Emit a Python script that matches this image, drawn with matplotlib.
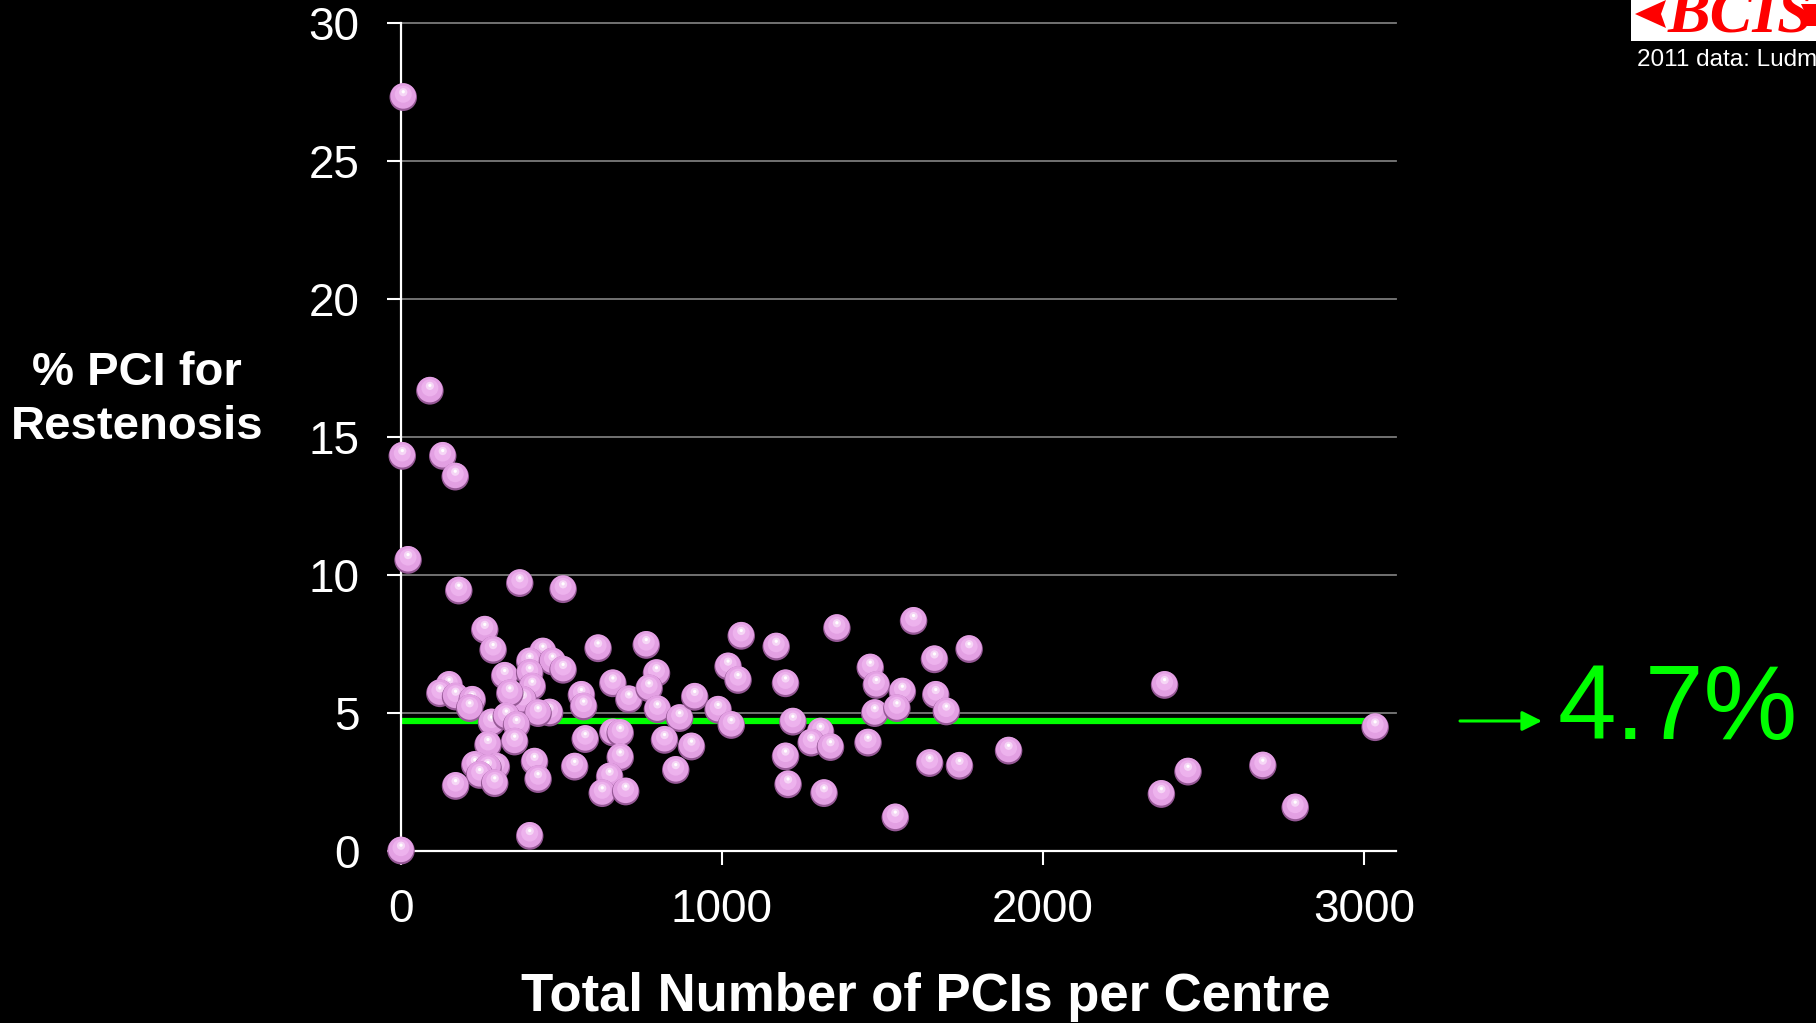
import matplotlib
matplotlib.use("Agg")
import matplotlib.pyplot as plt
import matplotlib.transforms as mtransforms
from matplotlib.patches import Rectangle, Polygon

plt.rcParams['font.family'] = ['Liberation Sans', 'DejaVu Sans']

# ---------------- data ----------------
pci_total = [7, 90, 4, 130, 169,
             22, 180, 370, 505, 261, 287, 442, 401, 472, 505, 323, 401, 409, 380, 339,
             150, 121, 170, 222, 214, 463, 427, 282, 328, 360, 271, 354, 230, 297, 271,
             245, 292, 170, 416, 427, 401, 0,
             614, 764, 1060, 660, 796, 562, 569, 710, 773, 799, 868, 915, 1019, 1050,
             988, 1029, 660, 683, 574, 683, 541, 821, 905, 856, 650, 627, 700,
             1169, 1358, 1597, 1770, 1198, 1462, 1481, 1562, 1662, 1666, 1699, 1476,
             1545, 1221, 1307, 1278, 1338, 1455, 1198, 1647, 1740, 1893, 1206, 1318, 1540,
             2379, 3035, 2452, 2369, 2685, 2786]
pct_restenosis = [27.3, 16.66, 14.3, 14.3, 13.55,
                  10.53, 9.42, 9.69, 9.47, 8.0, 7.27, 7.21, 6.85, 6.85, 6.55, 6.33, 6.43, 5.94, 5.46, 5.70,
                  6.0, 5.70, 5.58, 5.46, 5.16, 5.0, 4.98, 4.64, 4.86, 4.55, 3.83, 3.95, 3.1, 3.04, 3.0,
                  2.74, 2.44, 2.34, 3.22, 2.59, 0.53, 0.0,
                  7.33, 7.45, 7.78, 6.06, 6.43, 5.64, 5.22, 5.48, 5.88, 5.12, 4.8, 5.57, 6.67, 6.18,
                  5.1, 4.55, 4.28, 4.26, 4.04, 3.38, 3.04, 4.01, 3.77, 2.92, 2.68, 2.08, 2.14,
                  7.39, 8.06, 8.32, 7.3, 6.06, 6.63, 6.0, 5.76, 6.93, 5.64, 5.04, 4.98,
                  5.16, 4.67, 4.31, 3.91, 3.75, 3.91, 3.41, 3.17, 3.07, 3.62, 2.4, 2.08, 1.2,
                  6.0, 4.47, 2.86, 2.05, 3.08, 1.56]
mean_pct = 4.7
x_ticks = [0, 1000, 2000, 3000]
y_ticks = [0, 5, 10, 15, 20, 25, 30]
mean_label = "4.7%"
x_title = "Total Number of PCIs per Centre"
y_title_lines = ["% PCI for", "Restenosis"]
source_note = "2011 data: Ludman"

# ---------------- figure ----------------
W, H = 1816, 1023
fig = plt.figure(figsize=(W / 100, H / 100), dpi=100, facecolor='black')

def fx(px):
    return px / W

def fy(py):
    return 1 - py / H

ax = fig.add_axes([fx(401), 172.3 / H, 995 / W, 828 / H])
ax.set_facecolor('black')
ax.set_xlim(0, 3100)
ax.set_ylim(0, 30)

for s in ['top', 'right']:
    ax.spines[s].set_visible(False)
for s in ['left', 'bottom']:
    ax.spines[s].set_color('white')
    ax.spines[s].set_linewidth(1.6)

ax.set_xticks(x_ticks)
ax.set_yticks(y_ticks)
ax.tick_params(axis='both', colors='white', direction='out', length=10, width=1.5,
               labelsize=33, labelcolor='white')
ax.tick_params(axis='y', pad=20)
ax.tick_params(axis='x', pad=17)
ax.yaxis.grid(True, color='#7a7a7a', linewidth=1.3)
ax.xaxis.grid(False)
ax.set_axisbelow(True)
for gl in ax.get_ygridlines():
    gl.set_clip_on(False)

# mean line
ax.hlines(mean_pct, 0, max(pci_total), colors='#00ff00', linewidth=4.5, zorder=2)

# spheres
D = 19.8  # marker diameter in points
layers = [
    (1.00, 0.0, 0.0, '#955895'),
    (0.93, 0.0, 1.3, '#e3a0e3'),
    (0.62, 0.0, 3.0, '#edb2ed'),
    (0.30, 0.0, 5.0, '#f6d6f6'),
    (0.12, 0.0, 5.5, '#ffffff'),
]
z = 3
for xv, yv in zip(pci_total, pct_restenosis):
    for frac, dx, dy, col in layers:
        tr = mtransforms.offset_copy(ax.transData, fig=fig, x=dx, y=dy, units='dots')
        ax.scatter([xv], [yv], s=(D * frac) ** 2, color=col, edgecolors='none',
                   transform=tr, zorder=z, clip_on=False)
        z += 0.001

# axis titles
fig.text(fx(926), fy(1011), x_title, color='white', fontsize=38, fontweight='bold',
         ha='center', va='baseline')
fig.text(fx(137), fy(385), y_title_lines[0], color='white', fontsize=34, fontweight='bold',
         ha='center', va='baseline')
fig.text(fx(137), fy(438.5), y_title_lines[1], color='white', fontsize=34, fontweight='bold',
         ha='center', va='baseline')

# arrow + mean label
blend = mtransforms.blended_transform_factory(fig.transFigure, ax.transData)
ax.annotate('', xy=(fx(1542), mean_pct), xycoords=blend,
            xytext=(fx(1460), mean_pct), textcoords=blend,
            arrowprops=dict(arrowstyle='-|>,head_length=0.6,head_width=0.3',
                            color='#00ff00', lw=2.2, mutation_scale=20,
                            shrinkA=0, shrinkB=0), annotation_clip=False)
fig.text(fx(1558), fy(739), mean_label, color='#00ff00', fontsize=76, ha='left', va='baseline')

# logo
logo_bg = Rectangle((fx(1631), fy(41)), 1 - fx(1631), 41 / H, transform=fig.transFigure,
                    facecolor='white', edgecolor='none')
fig.patches.append(logo_bg)
left_head = [(1635, 14), (1666, 0), (1661, 14), (1666, 28)]
right_head = [(1801, 4), (1816, 4), (1816, 26), (1801, 26), (1806, 15)]
for shape in (left_head, right_head):
    fig.patches.append(Polygon([(fx(a), fy(b)) for a, b in shape], closed=True,
                               transform=fig.transFigure, facecolor='#ff0000', edgecolor='none'))
logo_txt = fig.text(fx(1668), fy(32), "BCIS", color='#ff0000', fontsize=46,
                    fontweight='bold', fontstyle='italic', family='Liberation Serif',
                    ha='left', va='baseline')
logo_txt.set_clip_path(logo_bg)
fig.text(fx(1637), fy(66.5), source_note, color='white', fontsize=17.5, ha='left', va='baseline')

fig.savefig('out.png', dpi=100, facecolor='black')
